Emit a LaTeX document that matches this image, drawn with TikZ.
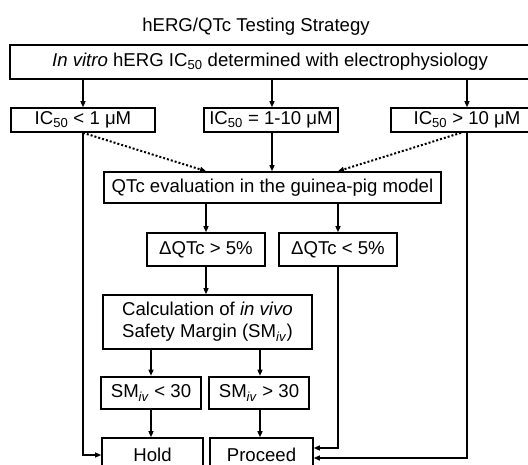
\documentclass[tikz,border=0pt]{standalone}
\usepackage{fontspec}
\setmainfont{Liberation Sans}
\usetikzlibrary{arrows.meta}

\begin{document}
\begin{tikzpicture}[
x=1pt,y=-1pt,
every node/.style={font=\fontsize{18.6}{22}\selectfont},
Box/.style={draw=black,line width=1.6pt,inner sep=0pt,align=center},
BoldBox/.style={Box,line width=2.6pt},
Arrows/.style={draw=black,line width=1.3pt,-{Triangle[length=6pt,width=5pt]}},
SideArrows/.style={Arrows,line width=1.1pt},
DotArrows/.style={Arrows,line width=2pt,dash pattern=on 2pt off 2pt}
]
\useasboundingbox (0,0) rectangle (528,465);
\clip (0,0) rectangle (528,465);

% columns of the connectors
\pgfmathparse{83}   \let\Xa\pgfmathresult
\pgfmathparse{272}  \let\Xb\pgfmathresult
\pgfmathparse{467}  \let\Xc\pgfmathresult
\pgfmathparse{206}  \let\Xd\pgfmathresult
\pgfmathparse{338}  \let\Xe\pgfmathresult
\pgfmathparse{151}  \let\Xf\pgfmathresult
\pgfmathparse{260}  \let\Xg\pgfmathresult
\coordinate (ColA) at (\Xa,0);
\coordinate (ColB) at (\Xb,0);
\coordinate (ColC) at (\Xc,0);
\coordinate (ColCdot) at (461,0);
\coordinate (ColD) at (\Xd,0);
\coordinate (ColE) at (\Xe,0);
\coordinate (ColF) at (\Xf,0);
\coordinate (ColG) at (\Xg,0);
\coordinate (RowD) at (0,448);
\coordinate (RowC) at (0,458);

\node (Title) at (256,27) {hERG/QTc Testing Strategy};

\node[Box,minimum width=520,minimum height=34] (Top) at (270,62)
  {\textit{In vitro} hERG IC\textsubscript{50} determined with electrophysiology};

\node[Box,minimum width=144,minimum height=24] (ICa) at (83,120) {IC\textsubscript{50} < 1 μM};
\node[Box,minimum width=134,minimum height=24] (ICb) at (271,120) {IC\textsubscript{50} = 1-10 μM};
\node[Box,minimum width=152,minimum height=24] (ICc) at (467,120) {IC\textsubscript{50} > 10 μM};

\node[Box,minimum width=337,minimum height=31] (QTc) at (272.5,187.5) {QTc evaluation in the guinea-pig model};

\node[Box,minimum width=118,minimum height=33] (DQa) at (206,249.5) {ΔQTc > 5\%};
\node[Box,minimum width=118,minimum height=33] (DQb) at (338,249.5) {ΔQTc < 5\%};

\node[Box,minimum width=209,minimum height=54] (Calc) at (207.5,322)
  {Calculation of \textit{in vivo}\\Safety Margin (SM\textsubscript{\textit{iv}})};

\node[BoldBox,minimum width=100,minimum height=32] (SMa) at (151,393) {SM\textsubscript{\textit{iv}} < 30};
\node[BoldBox,minimum width=100,minimum height=32] (SMb) at (259,393) {SM\textsubscript{\textit{iv}} > 30};

\node[Box,minimum width=101,minimum height=34] (Hold) at (152.5,455) {Hold};
\node[Box,minimum width=103,minimum height=34] (Proceed) at (261.5,455) {Proceed};

\draw[Arrows] (Top.south -| ColA) -- (ICa.north -| ColA);
\draw[Arrows] (Top.south -| ColB) -- (ICb.north -| ColB);
\draw[Arrows] (Top.south -| ColC) -- (ICc.north -| ColC);

\draw[Arrows] (ICb.south -| ColB) -- (QTc.north -| ColB);
\draw[DotArrows] (ICa.south -| ColA) -- (QTc.north -| ColD);
\draw[DotArrows] (ICc.south -| ColCdot) -- (QTc.north -| ColE);

\draw[Arrows] (QTc.south -| ColD) -- (DQa.north -| ColD);
\draw[Arrows] (QTc.south -| ColE) -- (DQb.north -| ColE);
\draw[Arrows] (DQa.south -| ColD) -- (Calc.north -| ColD);

\draw[Arrows] (Calc.south -| ColF) -- (SMa.north -| ColF);
\draw[Arrows] (Calc.south -| ColG) -- (SMb.north -| ColG);
\draw[Arrows] (SMa.south -| ColF) -- (Hold.north -| ColF);
\draw[Arrows] (SMb.south -| ColG) -- (Proceed.north -| ColG);

% long ways round
\draw[SideArrows] (ICa.south -| ColA) |- (Hold.west);
\draw[SideArrows] (DQb.south -| ColE) |- (Proceed.east |- RowD);
\draw[SideArrows] (ICc.south -| ColC) |- (Proceed.east |- RowC);

\end{tikzpicture}
\end{document}
